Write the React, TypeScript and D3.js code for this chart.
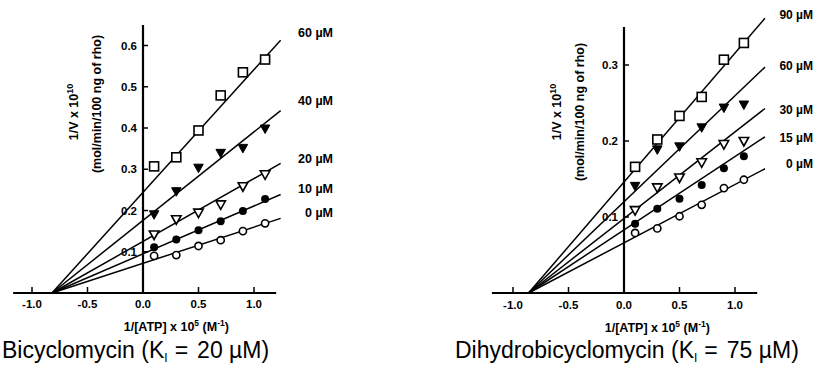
import React from "react";
import * as d3 from "d3";

// ---------- data ----------
const xTicks = [-1.0, -0.5, 0.0, 0.5, 1.0];
const leftYTicks = [0.1, 0.2, 0.3, 0.4, 0.5, 0.6];
const rightYTicks = [0.1, 0.2, 0.3];

const leftX = [0.1, 0.3, 0.5, 0.7, 0.9, 1.1];
const leftNames = ["60 µM", "40 µM", "20 µM", "10 µM", "0 µM"];
const left60 = [0.307, 0.329, 0.394, 0.479, 0.535, 0.566];
const left40 = [0.189, 0.245, 0.302, 0.338, 0.35, 0.397];
const left20 = [0.14, 0.177, 0.193, 0.213, 0.257, 0.286];
const left10 = [0.111, 0.13, 0.152, 0.174, 0.199, 0.228];
const left0 = [0.09, 0.092, 0.114, 0.128, 0.15, 0.169];
const leftIntercepts = [0.244, 0.176, 0.125, 0.095, 0.072];
const leftConverge = -0.82;
const leftLineEnd = 1.24;
const leftLabelY = [0.632, 0.467, 0.327, 0.254, 0.194];

const rightX = [0.1, 0.3, 0.5, 0.7, 0.9, 1.08];
const rightNames = ["90 µM", "60 µM", "30 µM", "15 µM", "0 µM"];
const right90 = [0.166, 0.202, 0.233, 0.258, 0.307, 0.329];
const right60 = [0.14, 0.188, 0.192, 0.217, 0.243, 0.247];
const right30 = [0.108, 0.138, 0.151, 0.171, 0.195, 0.199];
const right15 = [0.091, 0.111, 0.124, 0.142, 0.164, 0.18];
const right0 = [0.079, 0.085, 0.101, 0.116, 0.138, 0.149];
const rightIntercepts = [0.146, 0.12, 0.098, 0.083, 0.066];
const rightConverge = -0.86;
const rightLineEnd = 1.27;
const rightLabelY = [0.366, 0.299, 0.241, 0.205, 0.17];

const markers = ["openSquare", "filledTri", "openTri", "filledCircle", "openCircle"];

// ---------- drawing ----------
const AX = "'Liberation Sans', Arial, Helvetica, sans-serif";

function Marker({ kind, x, y }: { kind: string; x: number; y: number }) {
  const sw = 1.6;
  if (kind === "openSquare") {
    const s = 9;
    return <rect x={x - s / 2} y={y - s / 2} width={s} height={s} fill="white" stroke="#000" strokeWidth={sw} />;
  }
  if (kind === "filledTri" || kind === "openTri") {
    const w = 9.5, h = 8.5;
    const p = `${x - w / 2},${y - h / 2} ${x + w / 2},${y - h / 2} ${x},${y + h / 2}`;
    return kind === "filledTri" ? (
      <polygon points={p} fill="#000" stroke="#000" strokeWidth={1} />
    ) : (
      <polygon points={p} fill="white" stroke="#000" strokeWidth={sw} strokeLinejoin="miter" />
    );
  }
  if (kind === "filledCircle") return <circle cx={x} cy={y} r={4} fill="#000" />;
  return <circle cx={x} cy={y} r={3.6} fill="white" stroke="#000" strokeWidth={sw} />;
}

type PanelProps = {
  xRange: [number, number];
  yDomainMax: number;
  yRange: [number, number];
  yTicks: number[];
  axisX: [number, number];
  axisYTop: number;
  xs: number[];
  series: number[][];
  intercepts: number[];
  converge: number;
  lineEnd: number;
  names: string[];
  labelY: number[];
  labelRight: number;
  labelSize: number;
  yLab1X: number;
  yLab2X: number;
  yLab1Y: number;
  yLab2Y: number;
  xTickBase: number;
  xTitleBase: number;
};

function Panel(p: PanelProps) {
  const x = d3.scaleLinear().domain([-1, 1]).range(p.xRange);
  const y = d3.scaleLinear().domain([0, p.yDomainMax]).range(p.yRange);
  const x0 = x(0);
  const y0 = y(0);
  return (
    <g>
      {p.intercepts.map((b, i) => {
        const slope = b / -p.converge;
        const path = d3
          .line<number>()
          .x((d) => x(d))
          .y((d) => y(b + slope * d))([p.converge, p.lineEnd]);
        return <path key={"l" + i} d={path || ""} fill="none" stroke="#000" strokeWidth={1.5} />;
      })}
      <line x1={x(p.axisX[0])} x2={x(p.axisX[1])} y1={y0} y2={y0} stroke="#000" strokeWidth={2.2} />
      <line x1={x0} x2={x0} y1={y0} y2={y(p.axisYTop)} stroke="#000" strokeWidth={2.2} />
      {xTicks.map((t) => (
        <g key={"xt" + t}>
          <line x1={x(t)} x2={x(t)} y1={y0} y2={y0 - 6} stroke="#000" strokeWidth={1.5} />
          <text x={x(t)} y={p.xTickBase} textAnchor="middle" fontFamily={AX} fontWeight="bold" fontSize={11.5}>
            {d3.format(".1f")(t).replace("−", "-")}
          </text>
        </g>
      ))}
      {p.yTicks.map((t) => (
        <g key={"yt" + t}>
          <line x1={x0} x2={x0 + 5} y1={y(t)} y2={y(t)} stroke="#000" strokeWidth={1.5} />
          <text x={x0 - 6} y={y(t) + 4} textAnchor="end" fontFamily={AX} fontWeight="bold" fontSize={11.5}>
            {d3.format(".1f")(t)}
          </text>
        </g>
      ))}
      {p.series.map((vals, i) =>
        vals.map((v, j) => <Marker key={"m" + i + "-" + j} kind={markers[i]} x={x(p.xs[j])} y={y(v)} />)
      )}
      {p.names.map((n, i) => (
        <text
          key={"n" + i}
          x={p.labelRight}
          y={y(p.labelY[i]) + 4.5}
          textAnchor="end"
          fontFamily={AX}
          fontWeight="bold"
          fontSize={p.labelSize}
        >
          {n}
        </text>
      ))}
      <text
        transform={`translate(${p.yLab1X},${p.yLab1Y}) rotate(-90)`}
        textAnchor="middle"
        fontFamily={AX}
        fontWeight="bold"
        fontSize={12.5}
      >
        1/V x 10<tspan dy={-5} fontSize={9}>10</tspan>
      </text>
      <text
        transform={`translate(${p.yLab2X},${p.yLab2Y}) rotate(-90)`}
        textAnchor="middle"
        fontFamily={AX}
        fontWeight="bold"
        fontSize={12.5}
      >
        (mol/min/100 ng of rho)
      </text>
      <text x={x(0.3)} y={p.xTitleBase} textAnchor="middle" fontFamily={AX} fontWeight="bold" fontSize={12.5}>
        1/[ATP] x 10<tspan dy={-5} fontSize={8.5}>5</tspan>
        <tspan dy={5}> (M</tspan>
        <tspan dy={-5} fontSize={8.5}>-1</tspan>
        <tspan dy={5}>)</tspan>
      </text>
    </g>
  );
}

function Title({ x, y, name, ki }: { x: number; y: number; name: string; ki: string }) {
  return (
    <text x={x} y={y} fontFamily="'Liberation Sans', Arial, sans-serif" fontSize={23} fill="#000">
      {name} (K
      <tspan dy={4} fontSize={12}>I</tspan>
      <tspan dy={-4} dx={7}>=</tspan>
      <tspan dx={9}>{ki}</tspan>
    </text>
  );
}

export default function App() {
  return (
    <svg
      width={817}
      height={387}
      viewBox="0 0 817 387"
      style={{ position: "absolute", left: 0, top: 0, background: "#fff" }}
    >
      <rect width={817} height={387} fill="#fff" />
      <Panel
        xRange={[32, 254]}
        yDomainMax={0.6}
        yRange={[293, 45.5]}
        yTicks={leftYTicks}
        axisX={[-1.17, 1.2]}
        axisYTop={0.65}
        xs={leftX}
        series={[left60, left40, left20, left10, left0]}
        intercepts={leftIntercepts}
        converge={leftConverge}
        lineEnd={leftLineEnd}
        names={leftNames}
        labelY={leftLabelY}
        labelRight={333}
        labelSize={12.5}
        yLab1X={78}
        yLab2X={101}
        yLab1Y={112}
        yLab2Y={104}
        xTickBase={308}
        xTitleBase={331}
      />
      <Panel
        xRange={[513, 735]}
        yDomainMax={0.3}
        yRange={[293, 65]}
        yTicks={rightYTicks}
        axisX={[-1.19, 1.2]}
        axisYTop={0.35}
        xs={rightX}
        series={[right90, right60, right30, right15, right0]}
        intercepts={rightIntercepts}
        converge={rightConverge}
        lineEnd={rightLineEnd}
        names={rightNames}
        labelY={rightLabelY}
        labelRight={813}
        labelSize={12}
        yLab1X={561}
        yLab2X={584}
        yLab1Y={112}
        yLab2Y={112}
        xTickBase={309}
        xTitleBase={332}
      />
      <Title x={2} y={358} name="Bicyclomycin" ki="20 µM)" />
      <Title x={455} y={358} name="Dihydrobicyclomycin" ki="75 µM)" />
    </svg>
  );
}
